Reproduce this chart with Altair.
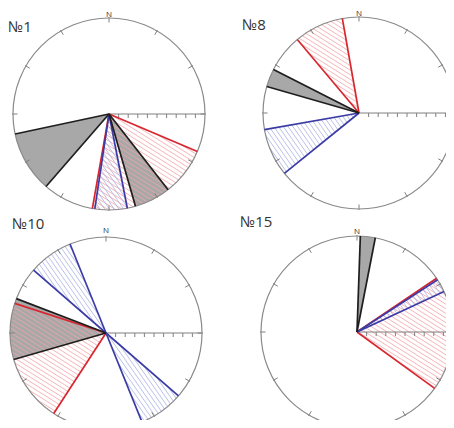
import numpy as np
import pandas as pd
import altair as alt

# ---------------- data (azimuths in degrees, clockwise from N) ----------------
PANEL_TITLES = ["№1", "№8", "№10", "№15"]
SEC_PANEL = [0, 0, 0, 0, 1, 1, 1, 2, 2, 2, 2, 3, 3, 3]
SEC_KIND = ["gray", "gray", "red", "blue",
            "red", "gray", "blue",
            "blue", "blue", "gray", "red",
            "gray", "red", "blue"]
SEC_FROM = [221, 142, 113, 169, 320, 286, 231, 311, 131, 254, 213, 2, 56, 57]
SEC_TO = [258, 164, 190, 188.5, 350, 297, 260, 338, 158, 291, 288, 11, 126, 65]
RING_TICKS = [0, 30, 60, 90, 120, 150, 180, 210, 240, 270, 300, 330]
EAST_TICKS = [1, 2, 3, 4, 5, 6, 7, 8, 9]

# ---------------- layout / styles ----------------
CX = [109, 359, 106, 357]
CY = [114, 113, 333, 332]
R = 96
TITLE_X = [8, 242, 12, 240]
TITLE_Y = [32, 30, 229, 227]
N_Y = [16.5, 15.5, 233, 234]
EDGE_COLOR = {"gray": "#1e1e1e", "red": "#d8262e", "blue": "#3b3ba6"}
HATCH_COLOR = {"red": "#f4a3a8", "blue": "#a9b2e2"}
HATCH_ANGLE = {"red": 32, "blue": 55}
HATCH_STEP = 3.9


def uvec(a):
    r = np.radians(a)
    return np.array([np.sin(r), -np.cos(r)])


def cross(a, b):
    return a[0] * b[1] - a[1] * b[0]


def hatch(cx, cy, a1, a2, phi, step):
    u1, u2 = uvec(a1), uvec(a2)
    p = np.radians(phi)
    d = np.array([np.cos(p), np.sin(p)])
    n = np.array([-np.sin(p), np.cos(p)])
    out = []
    for s in np.arange(-R + step / 2, R, step):
        h = np.sqrt(max(R * R - s * s, 0))
        lo, hi = -h, h
        base = s * n
        ok = True
        for u, sg in ((u1, 1.0), (u2, -1.0)):
            c0 = sg * cross(u, base)
            c1 = sg * cross(u, d)
            if abs(c1) < 1e-12:
                if c0 < 0:
                    ok = False
            elif c1 > 0:
                lo = max(lo, -c0 / c1)
            else:
                hi = min(hi, -c0 / c1)
        if ok and hi > lo:
            pa = base + lo * d
            pb = base + hi * d
            out.append((cx + pa[0], cy + pa[1], cx + pb[0], cy + pb[1]))
    return out


# tables
circles = pd.DataFrame({"cx": CX, "cy": CY, "t1": 0.0, "t2": 2 * np.pi})

sectors = pd.DataFrame({
    "cx": [CX[p] for p in SEC_PANEL],
    "cy": [CY[p] for p in SEC_PANEL],
    "t1": np.radians(SEC_FROM),
    "t2": np.radians(SEC_TO),
    "kind": SEC_KIND,
})
gray_sectors = sectors[sectors.kind == "gray"]

hatch_rows = []
for p, k, a1, a2 in zip(SEC_PANEL, SEC_KIND, SEC_FROM, SEC_TO):
    if k in HATCH_COLOR:
        for x, y, x2, y2 in hatch(CX[p], CY[p], a1, a2, HATCH_ANGLE[k], HATCH_STEP):
            hatch_rows.append({"x": x, "y": y, "x2": x2, "y2": y2, "c": HATCH_COLOR[k]})
hatch_df = pd.DataFrame(hatch_rows)

edge_rows = []
order = {"red": 0, "blue": 1, "gray": 2}
for p, k, a1, a2 in sorted(zip(SEC_PANEL, SEC_KIND, SEC_FROM, SEC_TO), key=lambda t: order[t[1]]):
    for a in (a1, a2):
        u = uvec(a)
        edge_rows.append({"x": CX[p], "y": CY[p], "x2": CX[p] + R * u[0],
                          "y2": CY[p] + R * u[1], "c": EDGE_COLOR[k]})
edge_df = pd.DataFrame(edge_rows)

tick_rows = []
for p in range(4):
    for a in RING_TICKS:
        u = uvec(a)
        tick_rows.append({"x": CX[p] + (R - 4.5) * u[0], "y": CY[p] + (R - 4.5) * u[1],
                          "x2": CX[p] + (R + 1) * u[0], "y2": CY[p] + (R + 1) * u[1]})
    tick_rows.append({"x": CX[p], "y": CY[p], "x2": CX[p] + R, "y2": CY[p]})
    for k in EAST_TICKS:
        xx = CX[p] + R * k / 10
        tick_rows.append({"x": xx, "y": CY[p], "x2": xx, "y2": CY[p] + 4})
tick_df = pd.DataFrame(tick_rows)

north_df = pd.DataFrame({"x": CX, "y": N_Y, "t": ["N"] * 4})
title_df = pd.DataFrame({"x": TITLE_X, "y": TITLE_Y, "t": PANEL_TITLES})

# page has 8px margin: visible area 438 x 412, mapped 1:1 to reference pixels
xs = alt.Scale(domain=[8, 446], nice=False, zero=False)
ys = alt.Scale(domain=[8, 420], nice=False, zero=False, reverse=True)
X = lambda f: alt.X(f, type="quantitative", scale=xs, axis=None)
Y = lambda f: alt.Y(f, type="quantitative", scale=ys, axis=None)

bg = alt.Chart(circles).mark_arc(radius=R, fill="white").encode(
    x=X("cx"), y=Y("cy"),
    theta=alt.Theta("t1:Q", scale=None), theta2="t2:Q")

gray = alt.Chart(gray_sectors).mark_arc(radius=R, fill="#a8a8a8").encode(
    x=X("cx"), y=Y("cy"),
    theta=alt.Theta("t1:Q", scale=None), theta2="t2:Q")

hatch_layer = alt.Chart(hatch_df).mark_rule(strokeWidth=0.9, opacity=0.9).encode(
    x=X("x"), y=Y("y"), x2="x2", y2="y2", color=alt.Color("c:N", scale=None))

ticks = alt.Chart(tick_df).mark_rule(strokeWidth=1, color="#808080").encode(
    x=X("x"), y=Y("y"), x2="x2", y2="y2")

outline = alt.Chart(circles).mark_arc(radius=R, fillOpacity=0, stroke="#8a8a8a",
                                      strokeWidth=1.2).encode(
    x=X("cx"), y=Y("cy"),
    theta=alt.Theta("t1:Q", scale=None), theta2="t2:Q")

edges = alt.Chart(edge_df).mark_rule(strokeWidth=1.7).encode(
    x=X("x"), y=Y("y"), x2="x2", y2="y2", color=alt.Color("c:N", scale=None))

north = alt.Chart(north_df).mark_text(fontSize=8, font="Open Sans", color="#333",
                                      baseline="alphabetic").encode(
    x=X("x"), y=Y("y"), text="t:N")

titles = alt.Chart(title_df).mark_text(fontSize=15, font="Open Sans", color="#333",
                                       align="left", baseline="alphabetic").encode(
    x=X("x"), y=Y("y"), text="t:N")

chart = alt.layer(bg, gray, hatch_layer, ticks, outline, edges, north, titles).properties(
    width=438, height=412,
    autosize=alt.AutoSizeParams(type="none"),
    padding=0,
).configure_view(stroke=None)

chart.save("out.html", embed_options={"renderer": "svg", "actions": False})
